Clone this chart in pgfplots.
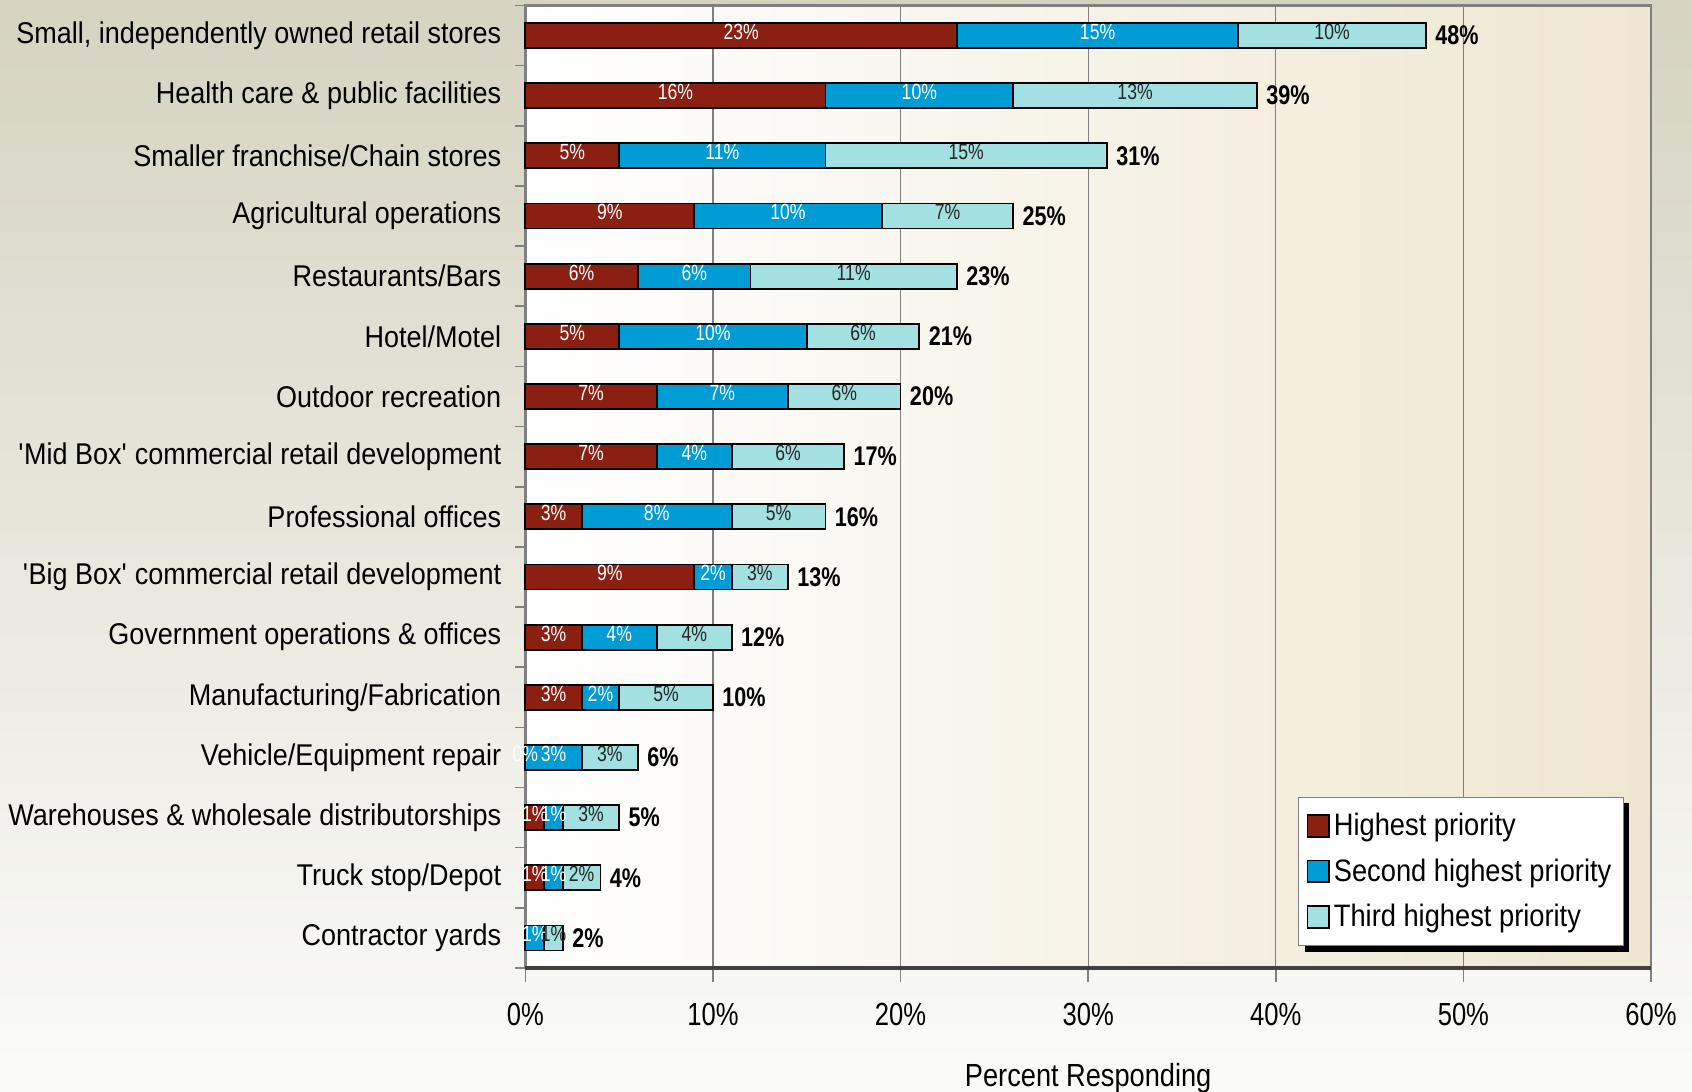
\documentclass[border=0pt]{standalone}
\usepackage{fontspec}
\setmainfont[FakeStretch=0.8]{Liberation Sans}
\newfontfamily\widefont[FakeStretch=0.9]{Liberation Sans}
\newfontfamily\legfont[FakeStretch=0.88]{Liberation Sans}
\newfontfamily\xlabfont[FakeStretch=0.85]{Liberation Sans}
\usepackage{pgfplots}
\usepackage{pgfplotstable}
\pgfplotsset{compat=1.18}
\usetikzlibrary{shadows}
\makeatletter
\tikzset{no preaction/.code={\let\tikz@preactions\pgfutil@empty}}
\makeatother
\definecolor{cHigh}{RGB}{139,32,18}
\definecolor{cSec}{RGB}{0,156,214}
\definecolor{cThird}{RGB}{163,224,225}
\definecolor{bgTop}{RGB}{214,211,193}
\definecolor{bgBot}{RGB}{251,251,249}
\definecolor{plotR}{RGB}{238,230,208}
\definecolor{gridc}{RGB}{128,128,128}
\definecolor{axdark}{RGB}{64,64,64}

\pgfplotstableread{
y high second third total
0 23 15 10 48
1 16 10 13 39
2 5 11 15 31
3 9 10 7 25
4 6 6 11 23
5 5 10 6 21
6 7 7 6 20
7 7 4 6 17
8 3 8 5 16
9 9 2 3 13
10 3 4 4 12
11 3 2 5 10
12 0 3 3 6
13 1 1 3 5
14 1 1 2 4
15 0 1 1 2
}\data

\pgfplotsset{common/.style={width=562.8pt, height=481.3pt, scale only axis,
  xmin=0, xmax=60, ymin=-0.5, ymax=15.5, y dir=reverse}}

\begin{document}
\begin{tikzpicture}
\fill[top color=bgTop, bottom color=bgBot] (-262.7pt,-62pt) rectangle (583.3pt,484pt);
\useasboundingbox (-262.7pt,-62pt) rectangle (583.3pt,484pt);
\begin{axis}[common,
  clip=false,
  xbar stacked, bar width=12.5pt,
  axis background/.style={left color=white, right color=plotR},
  xtick={0,10,...,60},
  xticklabels={0\%,10\%,20\%,30\%,40\%,50\%,60\%},
  ytick={0,...,15},
  yticklabels={{Small, independently owned retail stores},
    {Health care \& public facilities},
    {Smaller franchise/Chain stores},
    {Agricultural operations},
    {Restaurants/Bars},
    {Hotel/Motel},
    {Outdoor recreation},
    {\textquotesingle Mid Box\textquotesingle{} commercial retail development},
    {Professional offices},
    {\textquotesingle Big Box\textquotesingle{} commercial retail development},
    {Government operations \& offices},
    {Manufacturing/Fabrication},
    {Vehicle/Equipment repair},
    {Warehouses \& wholesale distributorships},
    {Truck stop/Depot},
    {Contractor yards}},
  minor ytick={-0.5,0.5,...,15.5},
  xtick pos=lower, ytick pos=left,
  tick align=outside, major tick length=7pt, minor tick length=5pt,
  major y tick style={draw=none},
  minor y tick style={draw=gridc, line width=0.8pt},
  major x tick style={draw=gridc, line width=0.8pt},
  xmajorgrids, major grid style={draw=gridc, line width=0.6pt},
  axis line style={draw=gridc, line width=1.2pt},
  xticklabel style={font=\fontsize{16}{19}\selectfont, yshift=-7pt},
  yticklabel style={font=\widefont\fontsize{15}{18}\selectfont, xshift=-1.6pt},
  xlabel={Percent Responding},
  xlabel style={font=\xlabfont\fontsize{16}{19}\selectfont, yshift=-12pt},
  legend style={at={(0.976,0.178)}, anchor=north east,
    draw=gridc, fill=white, line width=0.6pt,
    drop shadow={shadow xshift=3pt, shadow yshift=-3pt, fill=black, opacity=1},
    font=\legfont\fontsize{15.5}{18}\selectfont, row sep=6pt,
    inner xsep=4pt, inner ysep=6pt,
    cells={anchor=west}},
  legend image code/.code={\draw[#1, no preaction, draw=black, line width=0.8pt] (0pt,-5.4pt) rectangle (10.8pt,5.4pt);},
]
\addplot[fill=cHigh, draw=black, line width=0.9pt] table[x=high, y=y]{\data};
\addplot[fill=cSec, draw=black, line width=0.9pt] table[x=second, y=y]{\data};
\addplot[fill=cThird, draw=black, line width=0.9pt] table[x=third, y=y]{\data};
\legend{Highest priority, Second highest priority, Third highest priority}
\draw[line width=1.6pt, draw=axdark] (axis description cs:0,0) -- (axis description cs:1,0);
\end{axis}
\begin{axis}[common, hide axis, clip=false,
  point meta=explicit symbolic,
  nodes near coords={\pgfplotspointmeta\%},
  every node near coord/.style={anchor=center, inner sep=0pt,
    font=\fontsize{11}{13}\selectfont, yshift=1.8pt}]
\addplot[draw=none, mark=none, skip coords between index={15}{16},
  every node near coord/.append style={text=white}]
  table[x expr=\thisrow{high}/2, y=y, meta=high]{\data};
\addplot[draw=none, mark=none,
  every node near coord/.append style={text=white}]
  table[x expr=\thisrow{high}+\thisrow{second}/2, y=y, meta=second]{\data};
\addplot[draw=none, mark=none,
  every node near coord/.append style={text=black!85}]
  table[x expr=\thisrow{high}+\thisrow{second}+\thisrow{third}/2, y=y, meta=third]{\data};
\addplot[draw=none, mark=none,
  nodes near coords={\pgfplotspointmeta\%},
  every node near coord/.append style={anchor=west, xshift=4.5pt, yshift=-1.8pt,
    font=\fontsize{13.5}{16}\selectfont\bfseries}]
  table[x expr=\thisrow{high}+\thisrow{second}+\thisrow{third}, y=y, meta=total]{\data};
\end{axis}
\end{tikzpicture}
\end{document}
